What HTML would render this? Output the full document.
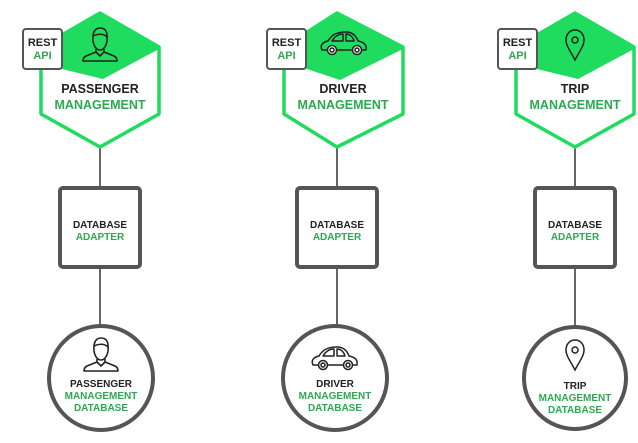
<!DOCTYPE html>
<html><head><meta charset="utf-8"><style>
html,body{margin:0;padding:0;background:#fff;width:638px;height:443px;overflow:hidden}
svg{display:block}
text{font-family:"Liberation Sans",Arial,sans-serif;font-weight:bold;text-anchor:middle}
.k{fill:#222}.g{fill:#2fa84f}
</style></head><body>
<svg width="638" height="443" viewBox="0 0 638 443" xmlns="http://www.w3.org/2000/svg">
<defs>
<g id="person" fill="none" stroke="#222" stroke-width="1.6" stroke-linejoin="round">
<path d="M-7,-4 C-8,-14 -4,-17 0,-17 C5,-17 8,-14 7,-4 C6,2 3,5 0,5 C-3,5 -6,2 -7,-4 Z"/>
<path d="M-7,-9 C-3,-11 3,-12 7,-8"/>
<path d="M-4,4 L-4,7 L-14,11 C-16,12 -17,14 -17,16 L17,16 C17,14 16,12 14,11 L4,7 L4,4"/>
<path d="M-4,7 L0,11 L4,7"/>
</g>
<g id="car" fill="none" stroke="#222" stroke-width="1.5" stroke-linejoin="round">
<path d="M-22,6 C-24,2 -22,-2 -16,-3 C-12,-10 -6,-12 2,-12 C9,-12 12,-8 14,-3 C20,-2 23,1 22,6 Z"/>
<path d="M-12,-3 C-9,-8 -5,-10 -1,-10 L-1,-3 Z M2,-10 C6,-10 9,-7 10,-3 L2,-3 Z"/>
<circle cx="-12" cy="6" r="4.5" fill="#fff"/><circle cx="-12" cy="6" r="2"/>
<circle cx="13" cy="6" r="4.5" fill="#fff"/><circle cx="13" cy="6" r="2"/>
</g>
<g id="pin" fill="none" stroke="#222" stroke-width="1.5">
<path d="M0,15 C-4,7 -9,1 -9,-5 C-9,-11 -5,-15 0,-15 C5,-15 9,-11 9,-5 C9,1 4,7 0,15 Z"/>
<circle cx="0" cy="-5" r="3"/>
</g>
</defs>

<!-- connectors -->
<g stroke="#666" stroke-width="2">
<line x1="100" y1="147" x2="100" y2="326"/>
<line x1="337" y1="147" x2="337" y2="326"/>
<line x1="575" y1="147" x2="575" y2="328"/>
</g>

<!-- Column generator done manually -->
<!-- COLUMN 1 -->
<g>
<polygon points="100,13 159,47 159,114 100,147 41,114 41,47" fill="#fff" stroke="#1fdc5f" stroke-width="3.5" stroke-linejoin="round"/>
<polygon points="100,13 159,47 159,49 103,79 62,69 41,60 41,47" fill="#1fdc5f"/>
<use href="#person" x="100" y="45"/>
<rect x="23" y="29" width="39" height="40" rx="3" fill="#fff" stroke="#555" stroke-width="2"/>
<text x="42.5" y="46" font-size="11" class="k">REST</text>
<text x="42.5" y="59" font-size="11" class="g">API</text>
<text x="100" y="93" font-size="12.5" class="k">PASSENGER</text>
<text x="100" y="109" font-size="12.5" class="g">MANAGEMENT</text>

<rect x="60" y="188" width="80" height="79" rx="3" fill="#fff" stroke="#555" stroke-width="4"/>
<text x="100" y="228" font-size="10" class="k">DATABASE</text>
<text x="100" y="240" font-size="10" class="g">ADAPTER</text>

<circle cx="101" cy="378" r="52" fill="#fff" stroke="#555" stroke-width="4"/>
<use href="#person" x="101" y="355" transform="translate(0,0)"/>
<text x="101" y="387" font-size="10" class="k">PASSENGER</text>
<text x="101" y="399" font-size="10" class="g">MANAGEMENT</text>
<text x="101" y="411" font-size="10" class="g">DATABASE</text>
</g>

<!-- COLUMN 2 -->
<g>
<polygon points="337,13 403,47 403,114 337,147 284,114 284,47" fill="#fff" stroke="#1fdc5f" stroke-width="3.5" stroke-linejoin="round"/>
<polygon points="337,13 403,47 403,49 340,80 307,69 284,60 284,47" fill="#1fdc5f"/>
<use href="#car" x="344" y="44"/>
<rect x="267" y="29" width="39" height="40" rx="3" fill="#fff" stroke="#555" stroke-width="2"/>
<text x="286.5" y="46" font-size="11" class="k">REST</text>
<text x="286.5" y="59" font-size="11" class="g">API</text>
<text x="343" y="93" font-size="12.5" class="k">DRIVER</text>
<text x="343" y="109" font-size="12.5" class="g">MANAGEMENT</text>

<rect x="297" y="188" width="80" height="79" rx="3" fill="#fff" stroke="#555" stroke-width="4"/>
<text x="337" y="228" font-size="10" class="k">DATABASE</text>
<text x="337" y="240" font-size="10" class="g">ADAPTER</text>

<circle cx="335" cy="378" r="52" fill="#fff" stroke="#555" stroke-width="4"/>
<use href="#car" x="335" y="359"/>
<text x="335" y="387" font-size="10" class="k">DRIVER</text>
<text x="335" y="399" font-size="10" class="g">MANAGEMENT</text>
<text x="335" y="411" font-size="10" class="g">DATABASE</text>
</g>

<!-- COLUMN 3 -->
<g>
<polygon points="575,13 634,47 634,114 575,147 516,114 516,47" fill="#fff" stroke="#1fdc5f" stroke-width="3.5" stroke-linejoin="round"/>
<polygon points="575,13 634,47 634,49 578,79 537,69 516,60 516,47" fill="#1fdc5f"/>
<use href="#pin" x="575" y="45"/>
<rect x="498" y="29" width="39" height="40" rx="3" fill="#fff" stroke="#555" stroke-width="2"/>
<text x="517.5" y="46" font-size="11" class="k">REST</text>
<text x="517.5" y="59" font-size="11" class="g">API</text>
<text x="575" y="93" font-size="12.5" class="k">TRIP</text>
<text x="575" y="109" font-size="12.5" class="g">MANAGEMENT</text>

<rect x="535" y="188" width="80" height="79" rx="3" fill="#fff" stroke="#555" stroke-width="4"/>
<text x="575" y="228" font-size="10" class="k">DATABASE</text>
<text x="575" y="240" font-size="10" class="g">ADAPTER</text>

<circle cx="575" cy="378" r="51" fill="#fff" stroke="#555" stroke-width="4"/>
<use href="#pin" x="575" y="355"/>
<text x="575" y="389" font-size="10" class="k">TRIP</text>
<text x="575" y="401" font-size="10" class="g">MANAGEMENT</text>
<text x="575" y="413" font-size="10" class="g">DATABASE</text>
</g>
</svg>
</body></html>
